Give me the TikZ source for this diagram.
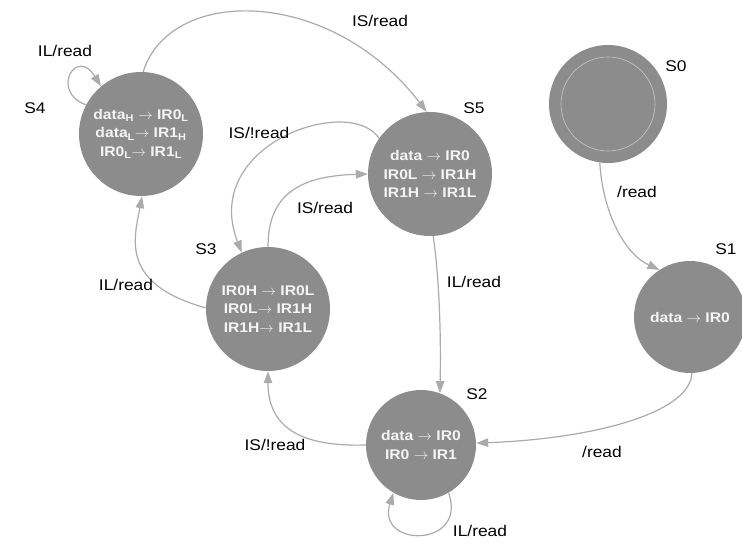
\documentclass[tikz,border=0pt]{standalone}
\usepackage{fontspec}
\setmainfont{Liberation Sans}[FakeStretch=1.12]
\usetikzlibrary{arrows.meta}
\definecolor{statefill}{HTML}{8C8C8C}
\definecolor{edgegray}{HTML}{ABABAB}
\definecolor{statetext}{HTML}{F4F4F4}
\definecolor{ringgray}{HTML}{C8C8C8}
\tikzset{
  state/.style={circle, fill=statefill, inner sep=0pt, minimum size=124pt,
    text=statetext, font=\fontsize{14}{18.5}\selectfont\bfseries, align=center},
  smallstate/.style={state, minimum size=110pt},
  trans/.style={draw=edgegray, line width=1.2pt, -{Triangle[length=12pt,width=8.5pt]}},
  lbl/.style={font=\fontsize{15.5}{18}\selectfont, inner sep=0pt},
}
\newcommand{\ar}{$\rightarrow$}
\begin{document}
\begin{tikzpicture}[x=1pt,y=1pt]
\useasboundingbox (0,0) rectangle (742,544);

% states
\node[state] (s4) at (141,410)
  {data\textsubscript{H} \ar{} IR0\textsubscript{L}\\
   data\textsubscript{L}\ar{} IR1\textsubscript{H}\\
   IR0\textsubscript{L}\ar{} IR1\textsubscript{L}};
\node[state] (s5) at (430,370)
  {data \ar{} IR0\\ IR0L \ar{} IR1H\\ IR1H \ar{} IR1L};
\node[state] (s3) at (268,235)
  {IR0H \ar{} IR0L\\ IR0L\ar{} IR1H\\ IR1H\ar{} IR1L};
\node[smallstate] (s2) at (421,99)
  {data \ar{} IR0\\ IR0 \ar{} IR1};
\node[smallstate, minimum size=112pt] (s1) at (690,227) {data \ar{} IR0};
\node[state, minimum size=118pt] (s0) at (608,440) {};
\node[circle, draw=ringgray, line width=0.6pt, minimum size=94pt, inner sep=0pt]
  (s0ring) at (s0) {};

% state names
\node[lbl] (n4) at (35,436) {S4};
\node[lbl] (n5) at (474,436) {S5};
\node[lbl] (n3) at (206,295) {S3};
\node[lbl] (n2) at (477,150) {S2};
\node[lbl] (n1) at (726,295) {S1};
\node[lbl] (n0) at (676,478) {S0};

% transitions
\draw[trans] (s4.152) .. controls (50,452) and (76,498) .. (s4.130);
\draw[trans] (s4.88) .. controls (170,558) and (330,558) .. (s5.93);
\draw[trans] (s5.145) .. controls (350,450) and (200,400) .. (s3.115);
\draw[trans] (s3.90) .. controls (268,350) and (300,368) .. (s5.180);
\draw[trans] (s3.179) .. controls (120,260) and (134,305) .. (s4.271);
\draw[trans] (s5.273) .. controls (440,260) and (441,200) .. (s2.70);
\draw[trans] (s2.180) .. controls (300,97) and (268,117) .. (s3.270);
\draw[trans] (s2.300) .. controls (468,-4) and (376,-4) .. (s2.240);
\draw[trans] (s0.262) .. controls (603,330) and (625,290) .. (s1.123);
\draw[trans] (s1.272) .. controls (690,130) and (590,105) .. (s2.2);

% transition labels
\node[lbl] (t44) at (65,493) {IL/read};
\node[lbl] (t45) at (380,523) {IS/read};
\node[lbl] (t53) at (259,411) {IS/!read};
\node[lbl] (t35) at (325,336) {IS/read};
\node[lbl] (t34) at (126,259) {IL/read};
\node[lbl] (t52) at (474,262) {IL/read};
\node[lbl] (t23) at (275,99) {IS/!read};
\node[lbl] (t22) at (480,13) {IL/read};
\node[lbl] (t01) at (637,352) {/read};
\node[lbl] (t12) at (602,92) {/read};
\end{tikzpicture}
\end{document}
